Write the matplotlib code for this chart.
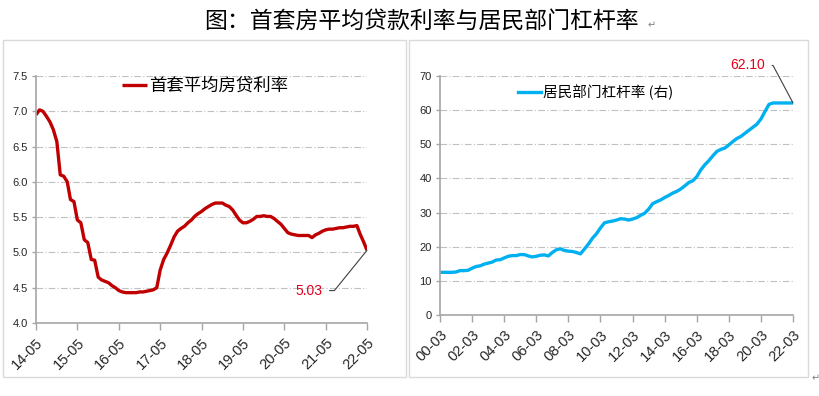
import matplotlib

matplotlib.use("Agg")
import matplotlib.pyplot as plt
import numpy as np
import pandas as pd
from matplotlib.patches import Rectangle

CJK = ["Noto Sans CJK SC", "DejaVu Sans"]
plt.rcParams["font.family"] = ["Liberation Sans", "Noto Sans CJK SC", "DejaVu Sans"]

# ---- data ----------------------------------------------------------------- #
# first-home average mortgage rate, monthly 2014-05 .. 2022-05 (%)
rate_start = "2014-05-01"
rate = [
    6.95, 7.02, 7.00, 6.93, 6.85, 6.74, 6.57, 6.10, 6.08, 6.00, 5.75, 5.72,
    5.46, 5.42, 5.18, 5.14, 4.90, 4.89, 4.65, 4.61, 4.59, 4.57, 4.53, 4.50,
    4.46, 4.44, 4.43, 4.43, 4.43, 4.43, 4.44, 4.44, 4.45, 4.46, 4.47, 4.50,
    4.75, 4.90, 4.99, 5.10, 5.22, 5.30, 5.34, 5.37, 5.42, 5.46, 5.51, 5.55,
    5.58, 5.62, 5.65, 5.68, 5.70, 5.70, 5.70, 5.67, 5.65, 5.60, 5.53, 5.46,
    5.42, 5.42, 5.44, 5.47, 5.51, 5.51, 5.52, 5.51, 5.51, 5.48, 5.44, 5.40,
    5.34, 5.28, 5.26, 5.25, 5.24, 5.24, 5.24, 5.24, 5.21, 5.25, 5.27, 5.30,
    5.32, 5.33, 5.33, 5.34, 5.35, 5.35, 5.36, 5.37, 5.37, 5.38, 5.26, 5.15,
    5.03,
]
rate_ticks = ["14-05", "15-05", "16-05", "17-05", "18-05", "19-05",
              "20-05", "21-05", "22-05"]
rate_yticks = [4.0, 4.5, 5.0, 5.5, 6.0, 6.5, 7.0, 7.5]

# household leverage ratio, quarterly 2000-03 .. 2022-03 (%)
lev_start = "2000-03-01"
leverage = [
    12.5, 12.5, 12.5, 12.5, 12.6, 13.0, 13.0, 13.1, 13.7, 14.2, 14.4, 14.9,
    15.2, 15.5, 16.1, 16.2, 16.7, 17.2, 17.4, 17.4, 17.7, 17.7, 17.3, 17.0,
    17.2, 17.5, 17.6, 17.3, 18.3, 19.1, 19.4, 18.9, 18.7, 18.6, 18.3, 17.9,
    19.3, 20.8, 22.5, 23.8, 25.5, 27.0, 27.3, 27.5, 27.8, 28.2, 28.1, 27.8,
    28.1, 28.5, 29.2, 29.8, 31.0, 32.6, 33.2, 33.7, 34.4, 35.0, 35.7, 36.2,
    36.9, 37.8, 38.8, 39.3, 40.5, 42.5, 44.0, 45.2, 46.6, 47.9, 48.5, 48.9,
    49.8, 50.8, 51.7, 52.3, 53.2, 54.1, 55.0, 55.9, 57.4, 59.6, 61.7, 62.1,
    62.1, 62.1, 62.1, 62.1, 62.1,
]
lev_ticks = ["00-03", "02-03", "04-03", "06-03", "08-03", "10-03", "12-03",
             "14-03", "16-03", "18-03", "20-03", "22-03"]
lev_yticks = [0, 10, 20, 30, 40, 50, 60, 70]

RED = "#c00000"
BLUE = "#00b0f0"
LABEL_RED = "#e3001b"
GRID = "#c0c0c0"
AXIS = "#a6a6a6"
TXT = "#262626"


def style_axis(ax):
    for side in ("top", "right"):
        ax.spines[side].set_visible(False)
    for side in ("left", "bottom"):
        ax.spines[side].set_color(AXIS)
        ax.spines[side].set_linewidth(1.2)
    ax.grid(axis="y", color=GRID, lw=0.8, ls=(0, (6, 2, 1, 2)))
    ax.set_axisbelow(True)
    ax.tick_params(axis="both", colors=AXIS, labelcolor=TXT, width=1, direction="out")
    ax.tick_params(axis="x", length=5, pad=4, labelsize=10.5)
    ax.tick_params(axis="y", length=3, pad=3, labelsize=8)
    for lab in ax.get_xticklabels():
        lab.set_rotation(45)
        lab.set_ha("right")
        lab.set_va("top")
        lab.set_rotation_mode("anchor")


fig = plt.figure(figsize=(8.2, 3.96), dpi=100)
W, H = 820, 396


def px_axes(x0, y0, x1, y1):
    return fig.add_axes([x0 / W, 1 - y1 / H, (x1 - x0) / W, (y1 - y0) / H])


# panel frames
for x0, y0, x1, y1 in [(3, 40, 406, 377), (409, 40, 808, 377)]:
    fig.patches.append(Rectangle((x0 / W, 1 - y1 / H), (x1 - x0) / W, (y1 - y0) / H,
                                 transform=fig.transFigure, fill=False,
                                 edgecolor="#d9d9d9", lw=1))

# ---- left: mortgage rate -------------------------------------------------- #
ax1 = px_axes(36, 76, 367, 323)
d1 = pd.date_range(rate_start, periods=len(rate), freq="MS")
ax1.plot(d1, rate, color=RED, lw=2.4, label="首套平均房贷利率", solid_capstyle="butt")
ax1.set_xlim(d1[0], d1[-1])
ax1.set_ylim(4.0, 7.5)
ax1.set_yticks(rate_yticks)
ax1.set_yticklabels([f"{v:.1f}" for v in rate_yticks])
t1 = pd.to_datetime(["20" + s[:2] + "-" + s[3:] + "-01" for s in rate_ticks])
ax1.set_xticks(t1)
ax1.set_xticklabels(rate_ticks)
style_axis(ax1)
ax1.legend(loc="upper left", bbox_to_anchor=(0.214, 1.06), frameon=False,
           handlelength=1.4, handletextpad=0.15, prop={"family": CJK, "size": 12.5})
ax1.annotate(f"{rate[-1]:.2f}", xy=(d1[-1], rate[-1]), xytext=(-32, -29),
             textcoords="offset points", ha="right", va="center", color=LABEL_RED,
             fontsize=10,
             arrowprops=dict(arrowstyle="-", color="#404040", lw=0.8, shrinkA=3, shrinkB=0,
                             connectionstyle="angle,angleA=0,angleB=51,rad=0"))

# ---- right: household leverage ------------------------------------------- #
ax2 = px_axes(440, 76, 793, 315)
d2 = pd.date_range(lev_start, periods=len(leverage), freq="3MS")
ax2.plot(d2, leverage, color=BLUE, lw=2.4, label="居民部门杠杆率 (右)")
ax2.set_xlim(d2[0], d2[-1])
ax2.set_ylim(0, 70)
ax2.set_yticks(lev_yticks)
t2 = pd.to_datetime(["20" + s[:2] + "-" + s[3:] + "-01" for s in lev_ticks])
ax2.set_xticks(t2)
ax2.set_xticklabels(lev_ticks)
style_axis(ax2)
ax2.legend(loc="upper left", bbox_to_anchor=(0.183, 1.02), frameon=False,
           handlelength=1.6, handletextpad=0.15, prop={"family": CJK, "size": 10.5})
ax2.annotate(f"{leverage[-1]:.2f}", xy=(d2[-1], leverage[-1]), xytext=(-20, 27),
             textcoords="offset points", ha="right", va="center", color=LABEL_RED,
             fontsize=10,
             arrowprops=dict(arrowstyle="-", color="#404040", lw=0.8, shrinkA=3, shrinkB=0,
                             connectionstyle="angle,angleA=0,angleB=-62,rad=0"))

# ---- title ---------------------------------------------------------------- #
fig.text(421 / W, 1 - 21 / H, "图：首套房平均贷款利率与居民部门杠杆率", ha="center",
         va="center", fontsize=16.5, family=CJK, color="black")
fig.text(648 / W, 1 - 25 / H, "↵", ha="left", va="center", fontsize=7,
         family=["DejaVu Sans"], color="#808080")
fig.text(812 / W, 1 - 378 / H, "↵", ha="left", va="center", fontsize=7,
         family=["DejaVu Sans"], color="#808080")

fig.savefig("out.png", dpi=100, facecolor="white")
